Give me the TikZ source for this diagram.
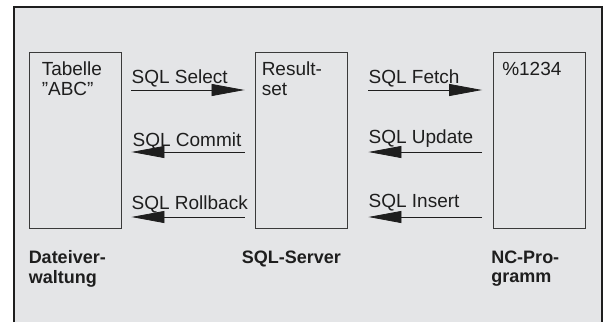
\documentclass[tikz,border=0pt]{standalone}
\usepackage{fontspec}
\setmainfont{Liberation Sans}
\usetikzlibrary{arrows.meta,positioning}
\definecolor{Ink}{HTML}{1E1E1E}
\definecolor{PanelGrey}{HTML}{E4E5E7}
\definecolor{BoxLine}{HTML}{3A3A3A}

\begin{document}
\begin{tikzpicture}[x=1pt,y=1pt,
  stage/.style={draw=BoxLine,line width=0.9pt,minimum width=92pt,minimum height=176pt,inner sep=0pt},
  boxtext/.style={font=\fontsize{19}{20}\selectfont,text=Ink,align=left,inner sep=0pt,anchor=north west},
  sql/.style={font=\fontsize{19}{20}\selectfont,text=Ink,inner sep=0pt,anchor=base west},
  role/.style={font=\bfseries\fontsize{18}{19.5}\selectfont,text=Ink,align=left,inner sep=0pt,anchor=north west},
  flow/.style={draw=Ink,line width=0.8pt,-{Triangle[length=33pt,width=12pt]}}
]
\useasboundingbox (0,0) rectangle (605,322);
% panel
\fill[PanelGrey] (14,0) rectangle (602,315);
\draw[Ink,line width=2pt] (14,0) -- (14,315) -- (602,315) -- (602,0);

% the three stages
\node[stage] (tab) at (75,182) {};
\node[stage] (res) at (301,182) {};
\node[stage] (nc) at (539.5,182) {};
\node[boxtext] (tabTxt) at ([shift={(13pt,-10pt)}]tab.north west) {Tabelle\\\symbol{34}ABC\symbol{34}};
\node[boxtext] (resTxt) at ([shift={(7pt,-10pt)}]res.north west) {Result-\\set};
\node[boxtext] (ncTxt) at ([shift={(9pt,-10pt)}]nc.north west) {\%1234};

% commands between file system and server
\draw[flow,shorten <=10pt,shorten >=10pt] ([yshift=50pt]tab.east) -- ([yshift=50pt]res.west);
\draw[flow,shorten <=10pt,shorten >=10pt] ([yshift=-12pt]res.west) -- ([yshift=-12pt]tab.east);
\draw[flow,shorten <=10pt,shorten >=10pt] ([yshift=-77pt]res.west) -- ([yshift=-77pt]tab.east);
\node[sql] (select) at ([shift={(10pt,57pt)}]tab.east) {SQL Select};
\node[sql] (commit) at ([shift={(11pt,-6pt)}]tab.east) {SQL Commit};
\node[sql] (rollback) at ([shift={(10pt,-69pt)}]tab.east) {SQL Rollback};

% commands between server and NC program
\draw[flow,shorten <=21pt,shorten >=11pt] ([yshift=50pt]res.east) -- ([yshift=50pt]nc.west);
\draw[flow,shorten <=11pt,shorten >=21pt] ([yshift=-12pt]nc.west) -- ([yshift=-12pt]res.east);
\draw[flow,shorten <=11pt,shorten >=21pt] ([yshift=-77pt]nc.west) -- ([yshift=-77pt]res.east);
\node[sql] (fetch) at ([shift={(21pt,57pt)}]res.east) {SQL Fetch};
\node[sql] (update) at ([shift={(21pt,-3pt)}]res.east) {SQL Update};
\node[sql] (insert) at ([shift={(21pt,-67pt)}]res.east) {SQL Insert};

% captions
\node[role] (dv) at ([shift={(0pt,-22pt)}]tab.south west) {Dateiver-\\waltung};
\node[role] (srv) at ([shift={(-13pt,-22pt)}]res.south west) {SQL-Server};
\node[role] (ncp) at ([shift={(-2pt,-22pt)}]nc.south west) {NC-Pro-\\gramm};
\end{tikzpicture}
\end{document}
